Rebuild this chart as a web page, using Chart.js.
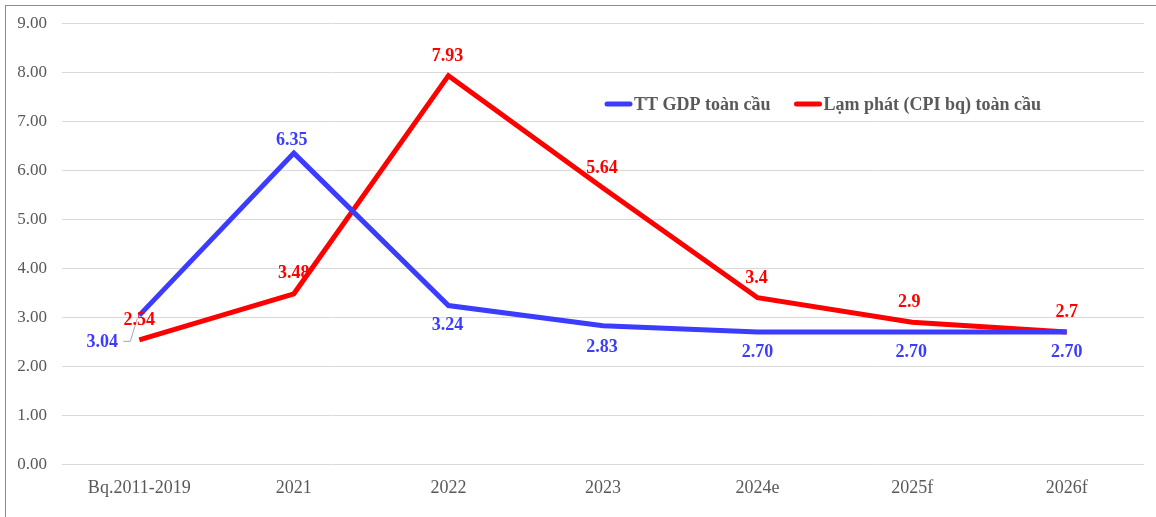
<!DOCTYPE html>
<html lang="vi">
<head>
<meta charset="UTF-8">
<script src="https://cdn.jsdelivr.net/npm/chart.js"></script>
<title>GDP va lam phat toan cau</title>
<style>
  html, body { margin: 0; padding: 0; background: #fff; overflow: hidden; }
  .frame {
    position: absolute; left: 5px; top: 5px;
    width: 1150px; height: 511px;
    border-left: 1px solid #8c8c8c;
    border-top: 1px solid #8c8c8c;
  }
  #chart { position: absolute; left: 0; top: -8px; }
</style>
</head>
<body>
<div class="frame"><canvas id="chart" width="1150" height="511"></canvas></div>
<script>
const years = ['Bq.2011-2019', '2021', '2022', '2023', '2024e', '2025f', '2026f'];
const gdp = [3.04, 6.35, 3.24, 2.83, 2.70, 2.70, 2.70];
const cpi = [2.54, 3.48, 7.93, 5.64, 3.4, 2.9, 2.7];
const gdpText = ['3.04', '6.35', '3.24', '2.83', '2.70', '2.70', '2.70'];
const cpiText = ['2.54', '3.48', '7.93', '5.64', '3.4', '2.9', '2.7'];

const blue = '#3c3cff';
const red = '#ff0000';
const grey = '#595959';
const serif = '"Liberation Serif", "Times New Roman", serif';

// label offsets [dx, dy] relative to the point
const gdpOff = [[-37, 27], [-2, -13], [-1, 20], [-1, 22], [0, 20], [-1, 20], [0, 20]];
const cpiOff = [[0, -20], [0, -20], [-1, -19], [-1, -20], [-1, -19], [-3, -20], [0, -20]];

const labelPlugin = {
  id: 'labels',
  afterDatasetsDraw(chart) {
    const ctx = chart.ctx;
    ctx.save();
    ctx.font = 'bold 18px ' + serif;
    ctx.textAlign = 'center';
    ctx.textBaseline = 'middle';
    // leader line for first GDP label
    const p0 = chart.getDatasetMeta(0).data[0];
    ctx.strokeStyle = '#a6a6a6';
    ctx.lineWidth = 1;
    ctx.beginPath();
    ctx.moveTo(p0.x - 16, p0.y + 26);
    ctx.lineTo(p0.x - 9, p0.y + 26);
    ctx.lineTo(p0.x - 2, p0.y + 3);
    ctx.stroke();
    [[gdpText, gdpOff, blue], [cpiText, cpiOff, red]].forEach(([txt, off, col], di) => {
      chart.getDatasetMeta(di).data.forEach((pt, i) => {
        ctx.fillStyle = col;
        ctx.fillText(txt[i], pt.x + off[i][0], pt.y + off[i][1]);
      });
    });
    // legend inside plot
    const items = [['TT GDP toàn cầu', blue], ['Lạm phát (CPI bq) toàn cầu', red]];
    let x = 599, y = 106;
    ctx.textAlign = 'left';
    items.forEach(([t, c]) => {
      ctx.strokeStyle = c;
      ctx.lineWidth = 5;
      ctx.lineCap = 'round';
      ctx.beginPath();
      ctx.moveTo(x + 2, y);
      ctx.lineTo(x + 25, y);
      ctx.stroke();
      ctx.fillStyle = grey;
      ctx.fillText(t, x + 29, y + 1);
      x += 29 + ctx.measureText(t).width + 24;
    });
    ctx.restore();
  }
};

new Chart(document.getElementById('chart'), {
  type: 'line',
  data: {
    labels: years,
    datasets: [
      { label: 'TT GDP toàn cầu', data: gdp, borderColor: blue, borderWidth: 5, pointRadius: 0, tension: 0 },
      { label: 'Lạm phát (CPI bq) toàn cầu', data: cpi, borderColor: red, borderWidth: 5, pointRadius: 0, tension: 0 }
    ]
  },
  options: {
    responsive: false,
    animation: false,
    layout: { padding: { left: 12, right: 12, top: 0, bottom: 5 } },
    plugins: { legend: { display: false }, tooltip: { enabled: false } },
    scales: {
      x: {
        offset: true,
        grid: { display: false },
        border: { display: false },
        ticks: { color: grey, font: { family: serif, size: 18 }, padding: 5, maxRotation: 0 }
      },
      y: {
        min: 0, max: 9,
        afterFit: s => { s.width = 44; },
        grid: { color: '#d9d9d9', lineWidth: 1, drawTicks: false },
        border: { display: false },
        ticks: { stepSize: 1, color: grey, font: { family: serif, size: 17 }, padding: 15,
          callback: v => v.toFixed(2) }
      }
    }
  },
  plugins: [labelPlugin]
});
</script>
</body>
</html>
